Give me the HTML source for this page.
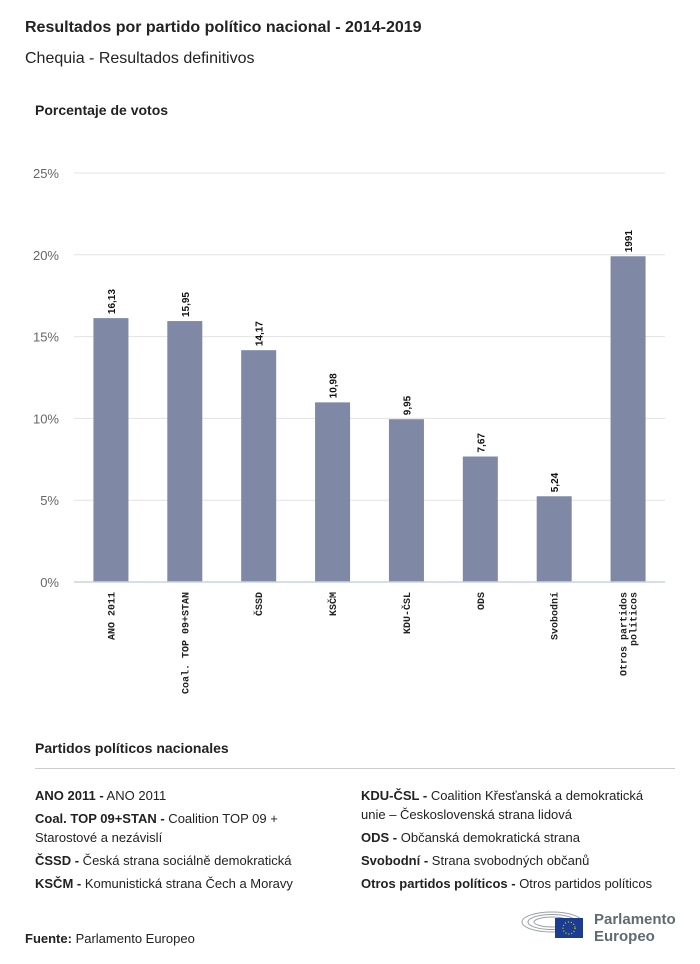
<!DOCTYPE html>
<html><head><meta charset="utf-8"><style>
body{margin:0;width:700px;height:964px;background:#fff;font-family:"Liberation Sans",sans-serif;color:#222;position:relative;overflow:hidden}
.a{position:absolute}
.leg{font-size:13px;line-height:19px;color:#222}
.leg b{font-weight:bold}
</style></head><body>
<div class="a" style="left:25px;top:19px;font-size:16px;font-weight:bold">Resultados por partido político nacional - 2014-2019</div>
<div class="a" style="left:25px;top:50px;font-size:16px">Chequia - Resultados definitivos</div>
<div class="a" style="left:35px;top:102px;font-size:14px;font-weight:bold">Porcentaje de votos</div>
<svg class="a" style="left:0;top:0" width="700" height="720" id="chart"></svg>
<div class="a" style="left:35px;top:740px;font-size:14px;font-weight:bold">Partidos políticos nacionales</div>
<div class="a" style="left:35px;top:768px;width:640px;height:1px;background:#ccc"></div>
<div class="a leg" style="left:35px;top:786px;width:300px">
<div style="margin-bottom:4px"><b>ANO 2011 -</b> ANO 2011</div>
<div style="margin-bottom:4px"><b>Coal. TOP 09+STAN -</b> Coalition TOP 09 + Starostové a nezávislí</div>
<div style="margin-bottom:4px"><b>ČSSD -</b> Česká strana sociálně demokratická</div>
<div><b>KSČM -</b> Komunistická strana Čech a Moravy</div>
</div>
<div class="a leg" style="left:361px;top:786px;width:300px">
<div style="margin-bottom:4px"><b>KDU-ČSL -</b> Coalition Křesťanská a demokratická unie – Československá strana lidová</div>
<div style="margin-bottom:4px"><b>ODS -</b> Občanská demokratická strana</div>
<div style="margin-bottom:4px"><b>Svobodní -</b> Strana svobodných občanů</div>
<div><b>Otros partidos políticos -</b> Otros partidos políticos</div>
</div>
<div class="a" style="left:25px;top:931px;font-size:13px"><b>Fuente:</b> Parlamento Europeo</div>
<svg class="a" style="left:520px;top:906px" width="70" height="40">
<g fill="none" stroke="#9aa0a6" stroke-width="1">
<ellipse cx="32" cy="16" rx="30" ry="10"/><ellipse cx="32" cy="16" rx="24" ry="7.5"/><ellipse cx="32" cy="16" rx="18" ry="5"/></g>
<rect x="35" y="12" width="28" height="20" fill="#1a3d8f"/>
<circle cx="49" cy="22" r="6" fill="none" stroke="#f5d000" stroke-width="1.2" stroke-dasharray="1 2"/>
</svg>
<div class="a" style="left:594px;top:911px;font-size:15px;font-weight:bold;color:#5f6b73;line-height:17px">Parlamento<br>Europeo</div>
<script>
const categories=["ANO 2011","Coal. TOP 09+STAN","ČSSD","KSČM","KDU-ČSL","ODS","Svobodní","Otros partidos|políticos"];
const values=[16.13,15.95,14.17,10.98,9.95,7.67,5.24,19.91];
const valueLabels=["16,13","15,95","14,17","10,98","9,95","7,67","5,24","1991"];
const ticks=[0,5,10,15,20,25];
const svg=document.getElementById('chart');
const NS='http://www.w3.org/2000/svg';
const x0=74,x1=665,y0=582,yTop=173,maxV=25;
const y=v=>y0-(v/maxV)*(y0-yTop);
const band=(x1-x0)/categories.length;
const xc=i=>x0+band*(i+0.5);
function mk(t,a){const e=document.createElementNS(NS,t);for(const k in a)e.setAttribute(k,a[k]);svg.appendChild(e);return e;}
ticks.forEach(t=>{
 if(t>0){const g=mk('line',{x1:x0,x2:x1,y1:y(t),y2:y(t),stroke:'#e3e3e3','stroke-width':1});
 
 }
 const l=mk('text',{x:59,y:y(t)+5,'text-anchor':'end','font-size':13,fill:'#666','font-family':'Liberation Sans, sans-serif'});
 l.textContent=t+'%';
 
 
});
values.forEach((v,i)=>{
 const cx=xc(i);
 const r=mk('rect',{x:cx-17.5,y:y(v),width:35,height:y0-y(v),fill:'#7f88a4'});
 
 
 const t=mk('text',{transform:`translate(${cx+4},${y(v)-4}) rotate(-90)`,'font-size':10,'font-weight':'bold',fill:'#111','font-family':'Liberation Sans, sans-serif'});
 t.textContent=valueLabels[i];
 
 
 const lines=categories[i].split('|');
 lines.forEach((s,j)=>{
  const off=(j-(lines.length-1)/2)*10;
  const c=mk('text',{transform:`translate(${cx+3.5+off},${592}) rotate(-90)`,'text-anchor':'end','font-size':10,'font-weight':'bold',fill:'#222','font-family':'Liberation Mono, monospace'});
  c.textContent=s;
  
  
 });
});
const ax=mk('line',{x1:x0,x2:x1,y1:y0,y2:y0,stroke:'#c9d3e6','stroke-width':1.5});


</script>
</body></html>
